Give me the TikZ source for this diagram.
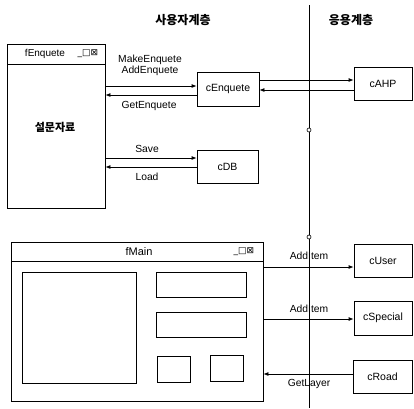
\documentclass[tikz,border=0pt]{standalone}
\usepackage{fontspec}
\setmainfont{Liberation Sans}
\newfontfamily\kr{Noto Sans CJK KR}
\newfontfamily\sym{DejaVu Sans}
\usetikzlibrary{arrows.meta}
\begin{document}
\begin{tikzpicture}[x=1pt,y=-1pt,
  box/.style={draw,line width=0.8pt,inner sep=0pt,font=\fontsize{10.5}{12}\selectfont},
  win/.style={draw,line width=0.8pt,inner sep=0pt},
  arr/.style={line width=0.8pt,-{Latex[length=5pt,width=4pt]}},
  lbl/.style={font=\fontsize{10.3}{12}\selectfont,inner sep=0pt},
  hdr/.style={font=\kr\bfseries\fontsize{12}{14}\selectfont,inner sep=0pt},
  dot/.style={circle,draw,fill=white,inner sep=0pt,minimum size=4pt,line width=0.6pt}]
\useasboundingbox (0,0) rectangle (414,408);
% headers
\node[hdr] (h1) at (183,20) {사용자계층};
\node[hdr] (h2) at (351,20) {응용계층};
% layer divider
\coordinate (vt) at (309,5);
\coordinate (vb) at (309,408);
\draw[line width=0.9pt] (vt) -- (vb);
\node[dot] (d1) at (309,130) {};
\node[dot] (d2) at (309,237) {};
% fEnquete window
\node[win,minimum width=98pt,minimum height=164pt] (fE) at (56,126) {};
\coordinate (fEbar) at (7,64);
\draw[line width=0.8pt] (fEbar) -- (fEbar -| fE.east);
\node[inner sep=0pt,font=\fontsize{10}{11}\selectfont] (fEt) at (45,54) {fEnquete};
\node[inner sep=0pt,font=\sym\fontsize{9}{10}\selectfont] (fEb) at (88,54) {\_□⊠};
\node[inner sep=0pt,font=\kr\bfseries\fontsize{11}{13}\selectfont] (sm) at (55,127) {설문자료};
% class boxes
\node[box,minimum width=62pt,minimum height=34pt] (cE) at (228,89) {cEnquete};
\node[box,minimum width=58pt,minimum height=33pt] (cA) at (383,83.5) {cAHP};
\node[box,minimum width=61pt,minimum height=33pt] (cD) at (227.5,166.5) {cDB};
% fMain window
\node[win,minimum width=252pt,minimum height=159pt] (fM) at (137,321.5) {};
\coordinate (fMbar) at (11,261);
\draw[line width=0.8pt] (fMbar) -- (fMbar -| fM.east);
\node[inner sep=0pt,font=\fontsize{11}{12}\selectfont] (fMt) at (139,252) {fMain};
\node[inner sep=0pt,font=\sym\fontsize{9}{10}\selectfont] (fMb) at (244,252) {\_□⊠};
\node[win,minimum width=114pt,minimum height=111pt] (p1) at (79,327.5) {};
\node[win,minimum width=90pt,minimum height=25pt] (p2) at (201,284.5) {};
\node[win,minimum width=90pt,minimum height=25pt] (p3) at (201,324.5) {};
\node[win,minimum width=33pt,minimum height=26pt] (p4) at (173.5,369) {};
\node[win,minimum width=33pt,minimum height=26pt] (p5) at (226.5,368) {};
\node[box,minimum width=58pt,minimum height=33pt] (cU) at (383,260.5) {cUser};
\node[box,minimum width=58pt,minimum height=34pt] (cS) at (383,318) {cSpecial};
\node[box,minimum width=59pt,minimum height=33pt] (cR) at (382.5,376.5) {cRoad};
% arrows top
\draw[arr] (fE.east |- 0,86) -- (cE.west |- 0,86);
\draw[arr] (cE.west |- 0,95) -- (fE.east |- 0,95);
\draw[arr] (cE.east |- 0,80) -- (cA.west |- 0,80);
\draw[arr] (cA.west |- 0,90) -- (cE.east |- 0,90);
\draw[arr] (fE.east |- 0,158) -- (cD.west |- 0,158);
\draw[arr] (cD.west |- 0,167) -- (fE.east |- 0,167);
\node[lbl] (l1) at (150,60) {MakeEnquete};
\node[lbl] (l2) at (150,71) {AddEnquete};
\node[lbl] (l3) at (149,106) {GetEnquete};
\node[lbl] (l4) at (147,149) {Save};
\node[lbl] (l5) at (147,177) {Load};
% arrows bottom
\draw[arr] (fM.east |- 0,267) -- (cU.west |- 0,267);
\draw[arr] (fM.east |- 0,319) -- (cS.west |- 0,319);
\draw[arr] (cR.west |- 0,374) -- (fM.east |- 0,374);
\node[lbl] (l6) at (309,256) {AddItem};
\node[lbl] (l7) at (309,309) {AddItem};
\node[lbl] (l8) at (309,384) {GetLayer};
\end{tikzpicture}
\end{document}
